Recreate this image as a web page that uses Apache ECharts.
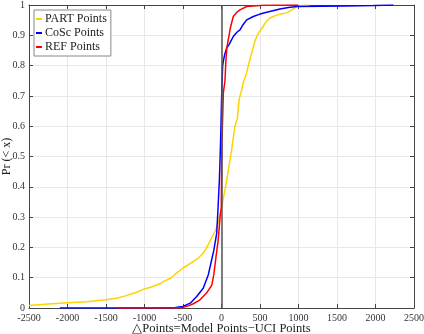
<!DOCTYPE html>
<html lang="en">
<head>
  <meta charset="UTF-8">
  <title>CDF of point differences</title>
  <style>
    body { margin: 0; padding: 0; background: #fff; }
    #main { width: 424px; height: 334px; }
  </style>
</head>
<body>
  <div id="main"></div>
</body>
</html>
<script src="https://cdnjs.cloudflare.com/ajax/libs/echarts/6.0.0/echarts.min.js"></script>
<script>
// [delta points, cumulative probability]
var partPoints = [
  [-2500, 0.008], [-2250, 0.013], [-2000, 0.017], [-1750, 0.021], [-1500, 0.027],
  [-1350, 0.033], [-1250, 0.04], [-1100, 0.052], [-1000, 0.063], [-900, 0.07],
  [-800, 0.08], [-750, 0.088], [-650, 0.1], [-600, 0.112], [-500, 0.132],
  [-400, 0.148], [-300, 0.165], [-250, 0.178], [-200, 0.195], [-130, 0.231],
  [-80, 0.255], [-40, 0.285], [-20, 0.31], [0, 0.33], [30, 0.37],
  [60, 0.41], [90, 0.456], [130, 0.52], [175, 0.6], [205, 0.625],
  [230, 0.69], [262, 0.72], [283, 0.745], [320, 0.77], [348, 0.8],
  [400, 0.85], [440, 0.885], [478, 0.907], [530, 0.925], [580, 0.945],
  [630, 0.957], [700, 0.965], [770, 0.97], [847, 0.974], [920, 0.985],
  [977, 0.995], [1050, 0.998], [1150, 1.0]
];
var coscPoints = [
  [-2100, 0], [-760, 0], [-600, 0.002], [-500, 0.005], [-400, 0.017],
  [-322, 0.038], [-236, 0.066], [-171, 0.11], [-127, 0.16], [-100, 0.19],
  [-62, 0.247], [-45, 0.33], [-28, 0.42], [-15, 0.52], [-7, 0.6],
  [0, 0.68], [8, 0.75], [15, 0.8], [24, 0.815], [40, 0.835],
  [67, 0.858], [100, 0.87], [153, 0.896], [200, 0.91], [240, 0.918],
  [280, 0.935], [327, 0.951], [413, 0.962], [500, 0.97], [587, 0.976],
  [680, 0.982], [760, 0.987], [870, 0.992], [977, 0.995], [1300, 0.996],
  [1600, 0.997], [1972, 0.998], [2232, 1.0]
];
var refPoints = [
  [-1360, 0], [-700, 0], [-500, 0.002], [-430, 0.007], [-366, 0.014],
  [-279, 0.027], [-192, 0.05], [-127, 0.075], [-100, 0.11], [-71, 0.17],
  [-45, 0.22], [-28, 0.27], [-19, 0.3], [-3, 0.33], [2, 0.49],
  [12, 0.6], [24, 0.71], [45, 0.75], [58, 0.82], [70, 0.86],
  [88, 0.886], [120, 0.93], [153, 0.962], [200, 0.976], [240, 0.984],
  [327, 0.995], [540, 0.999], [1000, 1.0]
];
var xTicks = { min: -2500, max: 2500, step: 500 };
var yTicks = { min: 0, max: 1, step: 0.1 };

var serif = 'Liberation Serif';
var chart = echarts.init(document.getElementById('main'));

function boxAxis(base, pos) {
  return Object.assign({
    type: 'value',
    position: pos,
    axisLine: { show: true, onZero: false, lineStyle: { color: '#444', width: 1 } },
    axisTick: { show: true, inside: true, length: 4, lineStyle: { color: '#444' } },
    axisLabel: { show: false },
    splitLine: { show: false }
  }, base);
}

var option = {
  animation: false,
  backgroundColor: '#fff',
  grid: { left: 29, right: 10, top: 5, bottom: 26, containLabel: false, outerBoundsMode: 'none' },
  legend: {
    left: 34, top: 10,
    orient: 'vertical',
    itemWidth: 6, itemHeight: 2, itemGap: 2,
    icon: 'rect',
    padding: [3, 4, 3, 2],
    backgroundColor: '#fff',
    borderColor: '#888', borderWidth: 1,
    textStyle: { fontFamily: serif, fontSize: 12, color: '#222', padding: [0, 0, 0, -2] },
    data: ['PART Points', 'CoSc Points', 'REF Points']
  },
  xAxis: [
    {
      type: 'value', min: xTicks.min, max: xTicks.max, interval: xTicks.step,
      name: '\u25B3Points=Model Points\u2212UCI Points',
      nameLocation: 'middle', nameGap: 14, nameMoveOverlap: false,
      nameTextStyle: { fontFamily: serif, fontSize: 12.5, color: '#222' },
      axisLine: { show: true, onZero: false, lineStyle: { color: '#444' } },
      axisTick: { show: true, inside: true, length: 4, lineStyle: { color: '#444' } },
      axisLabel: { fontFamily: serif, fontSize: 10, color: '#333', margin: 5,
        formatter: function (v) { return String(v); } },
      splitLine: { show: true, lineStyle: { color: '#e8e8e8', width: 1 } }
    },
    boxAxis({ min: xTicks.min, max: xTicks.max, interval: xTicks.step }, 'top')
  ],
  yAxis: [
    {
      type: 'value', min: yTicks.min, max: yTicks.max, interval: yTicks.step,
      name: 'Pr (< x)',
      nameLocation: 'middle', nameGap: 16, nameMoveOverlap: false,
      nameTextStyle: { fontFamily: serif, fontSize: 12, color: '#222' },
      axisLine: { show: true, onZero: false, lineStyle: { color: '#444' } },
      axisTick: { show: true, inside: true, length: 4, lineStyle: { color: '#444' } },
      axisLabel: { fontFamily: serif, fontSize: 10, color: '#333', margin: 4,
        formatter: function (v) { return +v.toFixed(1) + ''; } },
      splitLine: { show: true, lineStyle: { color: '#e8e8e8', width: 1 } }
    },
    boxAxis({ min: yTicks.min, max: yTicks.max, interval: yTicks.step }, 'right')
  ],
  series: [
    {
      name: 'PART Points', type: 'line', data: partPoints,
      showSymbol: false, color: '#FFD200',
      lineStyle: { width: 1.5, color: '#FFD200' },
      markLine: {
        silent: true, symbol: 'none', label: { show: false },
        lineStyle: { color: '#555', width: 1.5, type: 'solid' },
        data: [{ xAxis: 0 }]
      }
    },
    {
      name: 'CoSc Points', type: 'line', data: coscPoints,
      showSymbol: false, color: '#0000FF',
      lineStyle: { width: 1.5, color: '#0000FF' }
    },
    {
      name: 'REF Points', type: 'line', data: refPoints,
      showSymbol: false, color: '#FF0000',
      lineStyle: { width: 1.5, color: '#FF0000' }
    }
  ]
};
chart.setOption(option);
</script>
